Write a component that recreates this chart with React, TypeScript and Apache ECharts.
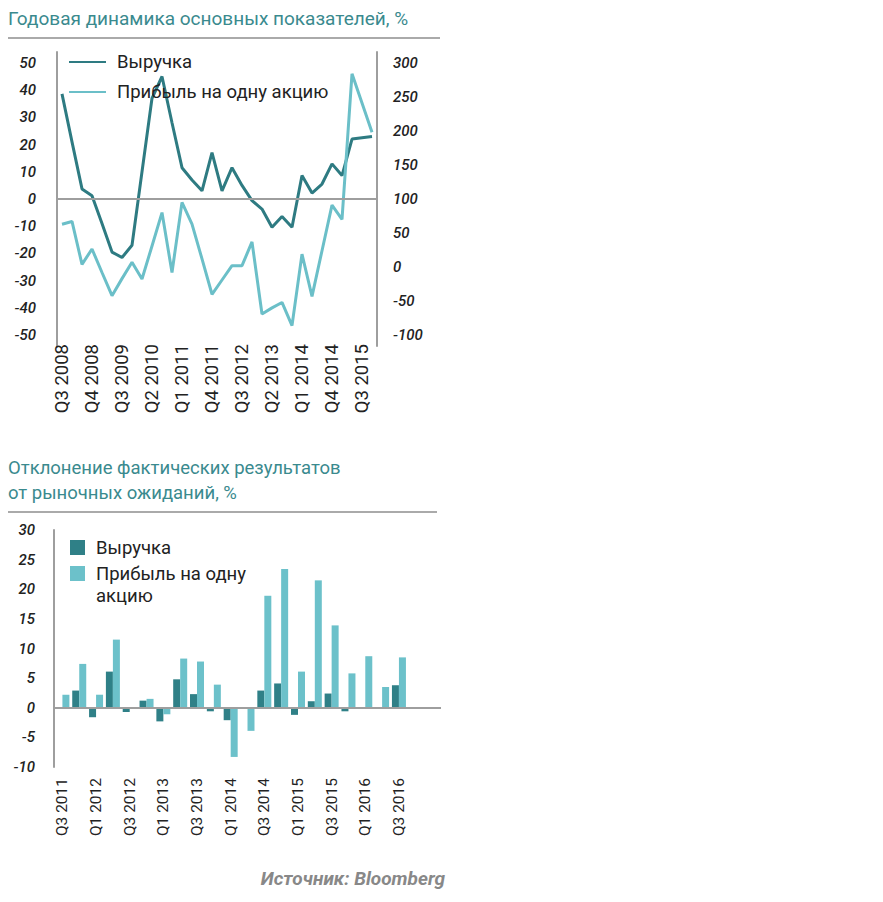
import React, { useEffect, useRef } from 'react';
import * as echarts from 'echarts';

// ---------- Top chart data ----------
const topCategories = [
  'Q1 2008', 'Q2 2008', 'Q3 2008', 'Q4 2008',
  'Q1 2009', 'Q2 2009', 'Q3 2009', 'Q4 2009',
  'Q1 2010', 'Q2 2010', 'Q3 2010', 'Q4 2010',
  'Q1 2011', 'Q2 2011', 'Q3 2011', 'Q4 2011',
  'Q1 2012', 'Q2 2012', 'Q3 2012', 'Q4 2012',
  'Q1 2013', 'Q2 2013', 'Q3 2013', 'Q4 2013',
  'Q1 2014', 'Q2 2014', 'Q3 2014', 'Q4 2014',
  'Q1 2015', 'Q2 2015', 'Q3 2015', 'Q4 2015',
];
// labels as printed on the reference (one every third quarter)
const topTickLabels = [
  'Q3 2008', 'Q4 2008', 'Q3 2009', 'Q2 2010', 'Q1 2011', 'Q4 2011',
  'Q3 2012', 'Q2 2013', 'Q1 2014', 'Q4 2014', 'Q3 2015',
];
const revenueGrowth = [
  38.6, 21, 3.7, 1.2, -9, -19.5, -21.5, -17, 10, 37, 45, 28, 11.5, 7, 3, 17,
  3, 11.5, 5, -0.6, -3.7, -10.4, -6.4, -10.4, 8.6, 2.2, 5.5, 12.9, 8.6, 22, 22.5, 23,
];
const epsGrowth = [
  63, 67, 4, 26.5, -8, -42, -17, 7, -17.6, 31, 80, -8, 95, 63, 12, -40,
  -19, 2, 2, 37, -69, -60, -52, -86, 19, -43, 24, 91, 70, 284, 241, 198,
];
const leftTicks = [-50, -40, -30, -20, -10, 0, 10, 20, 30, 40, 50];
const rightTicks = [-100, -50, 0, 50, 100, 150, 200, 250, 300];

// ---------- Bottom chart data ----------
const botCategories = [
  'Q3 2011', 'Q4 2011', 'Q1 2012', 'Q2 2012', 'Q3 2012', 'Q4 2012',
  'Q1 2013', 'Q2 2013', 'Q3 2013', 'Q4 2013', 'Q1 2014', 'Q2 2014',
  'Q3 2014', 'Q4 2014', 'Q1 2015', 'Q2 2015', 'Q3 2015', 'Q4 2015',
  'Q1 2016', 'Q2 2016', 'Q3 2016',
];
const revenueSurprise = [
  0, 2.9, -1.6, 6.1, -0.7, 1.2, -2.3, 4.8, 2.3, -0.6, -2.1,
  0, 2.9, 4.1, -1.2, 1.1, 2.4, -0.6, 0, 0, 3.8,
];
const epsSurprise = [
  2.2, 7.4, 2.2, 11.5, 0, 1.5, -1.1, 8.3, 7.8, 3.9, -8.3,
  -3.9, 18.9, 23.4, 6.1, 21.5, 13.9, 5.8, 8.7, 3.5, 8.5,
];

const NAME_REV = 'Выручка';
const NAME_EPS = 'Прибыль на одну акцию';

const DARK_LINE = '#2e7b82';
const LIGHT_LINE = '#6bbfc8';
const DARK_BAR = '#2f8087';
const LIGHT_BAR = '#6cc1ca';
const TITLE = '#3a8a8e';
const AXIS = '#9e9e9e';
const TXT = '#222222';
const FONT = 'Roboto';

const yLabelStyle = {
  fontFamily: FONT,
  fontStyle: 'italic' as const,
  fontWeight: 500,
  fontSize: 15,
  color: TXT,
};

function topOption() {
  return {
    animation: false,
    textStyle: { fontFamily: FONT },
    graphic: [
      {
        type: 'text',
        x: 8,
        y: 18,
        style: {
          text: 'Годовая динамика основных показателей, %',
          font: `19px ${FONT}`,
          fill: TITLE,
          verticalAlign: 'middle',
        },
      },
      {
        type: 'line',
        shape: { x1: 8, y1: 38, x2: 440, y2: 38 },
        style: { stroke: '#aaaaaa', lineWidth: 2 },
      },
    ],
    legend: {
      orient: 'vertical',
      left: 68,
      top: 51,
      padding: 0,
      itemWidth: 37,
      itemHeight: 14,
      itemGap: 8,
      itemStyle: { opacity: 0 },
      data: [NAME_REV, NAME_EPS],
      textStyle: {
        fontFamily: FONT,
        fontSize: 18.5,
        lineHeight: 22,
        color: TXT,
        padding: [0, 0, 0, 6],
      },
    },
    grid: { left: 57, top: 52, width: 320, height: 294, outerBoundsMode: 'none' },
    xAxis: {
      type: 'category',
      data: topCategories,
      boundaryGap: true,
      axisLine: { show: false },
      axisTick: { show: false },
      axisLabel: {
        interval: 0,
        rotate: 90,
        margin: -2,
        fontFamily: FONT,
        fontSize: 18.5,
        color: TXT,
        formatter: (v: string) => {
          const i = topCategories.indexOf(v);
          return i % 3 === 0 ? topTickLabels[i / 3] : '';
        },
      },
    },
    yAxis: [
      {
        type: 'value',
        min: -54,
        max: 54,
        position: 'left',
        axisLine: { show: true, onZero: false, lineStyle: { color: AXIS, width: 2 } },
        axisTick: { show: false },
        splitLine: { show: false },
        axisLabel: { ...yLabelStyle, margin: 21, customValues: leftTicks },
      },
      {
        type: 'value',
        min: -116,
        max: 316,
        position: 'right',
        axisLine: { show: true, onZero: false, lineStyle: { color: AXIS, width: 2 } },
        axisTick: { show: false },
        splitLine: { show: false },
        axisLabel: { ...yLabelStyle, margin: 16, customValues: rightTicks },
      },
    ],
    series: [
      {
        name: NAME_REV,
        type: 'line',
        yAxisIndex: 0,
        data: revenueGrowth,
        symbol: 'none',
        color: DARK_LINE,
        lineStyle: { color: DARK_LINE, width: 3 },
        markLine: {
          silent: true,
          symbol: 'none',
          label: { show: false },
          lineStyle: { color: AXIS, width: 2, type: 'solid' },
          data: [{ yAxis: 0 }],
        },
      },
      {
        name: NAME_EPS,
        type: 'line',
        yAxisIndex: 1,
        data: epsGrowth,
        symbol: 'none',
        color: LIGHT_LINE,
        lineStyle: { color: LIGHT_LINE, width: 3 },
      },
    ],
  };
}

function bottomOption() {
  const legendText = {
    fontFamily: FONT,
    fontSize: 18.5,
    lineHeight: 22,
    color: TXT,
    padding: [0, 0, 0, 6],
  };
  return {
    animation: false,
    textStyle: { fontFamily: FONT },
    graphic: [
      {
        type: 'text',
        x: 8,
        y: 15.5,
        style: {
          text: 'Отклонение фактических результатов\nот рыночных ожиданий, %',
          font: `18.5px ${FONT}`,
          lineHeight: 25,
          fill: TITLE,
          verticalAlign: 'top',
        },
      },
      {
        type: 'line',
        shape: { x1: 8, y1: 72, x2: 437, y2: 72 },
        style: { stroke: '#aaaaaa', lineWidth: 2 },
      },
      {
        type: 'text',
        x: 445,
        y: 438,
        style: {
          text: 'Источник: Bloomberg',
          font: `italic bold 19px ${FONT}`,
          fill: '#888888',
          align: 'right',
          verticalAlign: 'middle',
        },
      },
    ],
    legend: [
      {
        orient: 'vertical',
        left: 70,
        top: 96.5,
        padding: 0,
        itemWidth: 15,
        itemHeight: 15,
        icon: 'rect',
        data: [NAME_REV],
        textStyle: legendText,
      },
      {
        orient: 'vertical',
        left: 70,
        top: 100.5,
        padding: 0,
        itemWidth: 15,
        itemHeight: 15,
        icon: 'rect',
        data: [NAME_EPS],
        // leading blank line keeps the icon level with the first text line
        formatter: (n: string) => (n === NAME_EPS ? '\nПрибыль на одну\nакцию' : n),
        textStyle: legendText,
      },
    ],
    grid: { left: 54, top: 90, width: 387, height: 237, outerBoundsMode: 'none' },
    xAxis: {
      type: 'category',
      data: botCategories,
      max: botCategories.length + 1,
      boundaryGap: true,
      axisLine: { show: false },
      axisTick: { show: false },
      axisLabel: {
        interval: (i: number) => i % 2 === 0 && i < botCategories.length,
        rotate: 90,
        margin: 11,
        fontFamily: FONT,
        fontSize: 15.5,
        color: TXT,
        formatter: (v: string) => (v == null ? '' : v),
      },
    },
    yAxis: {
      type: 'value',
      min: -10,
      max: 30,
      interval: 5,
      axisLine: { show: true, onZero: false, lineStyle: { color: AXIS, width: 2 } },
      axisTick: { show: false },
      splitLine: { show: false },
      axisLabel: { ...yLabelStyle, margin: 19 },
    },
    series: [
      {
        name: NAME_REV,
        type: 'bar',
        data: revenueSurprise,
        barWidth: 7,
        barGap: '0%',
        color: DARK_BAR,
        itemStyle: { color: DARK_BAR },
        markLine: {
          silent: true,
          symbol: 'none',
          label: { show: false },
          lineStyle: { color: AXIS, width: 2, type: 'solid' },
          data: [{ yAxis: 0 }],
        },
      },
      {
        name: NAME_EPS,
        type: 'bar',
        data: epsSurprise,
        barWidth: 7,
        barGap: '0%',
        color: LIGHT_BAR,
        itemStyle: { color: LIGHT_BAR },
      },
    ],
  };
}

export default function App() {
  const topRef = useRef<HTMLDivElement>(null);
  const botRef = useRef<HTMLDivElement>(null);

  useEffect(() => {
    document.body.style.margin = '0';
    const c1 = echarts.init(topRef.current!, undefined, { renderer: 'svg' });
    const c2 = echarts.init(botRef.current!, undefined, { renderer: 'svg' });
    c1.setOption(topOption() as any);
    c2.setOption(bottomOption() as any);
    return () => {
      c1.dispose();
      c2.dispose();
    };
  }, []);

  return (
    <div style={{ position: 'relative', width: 883, height: 902, background: '#fff' }}>
      <div ref={topRef} style={{ position: 'absolute', left: 0, top: 0, width: 883, height: 440 }} />
      <div ref={botRef} style={{ position: 'absolute', left: 0, top: 440, width: 883, height: 462 }} />
    </div>
  );
}
